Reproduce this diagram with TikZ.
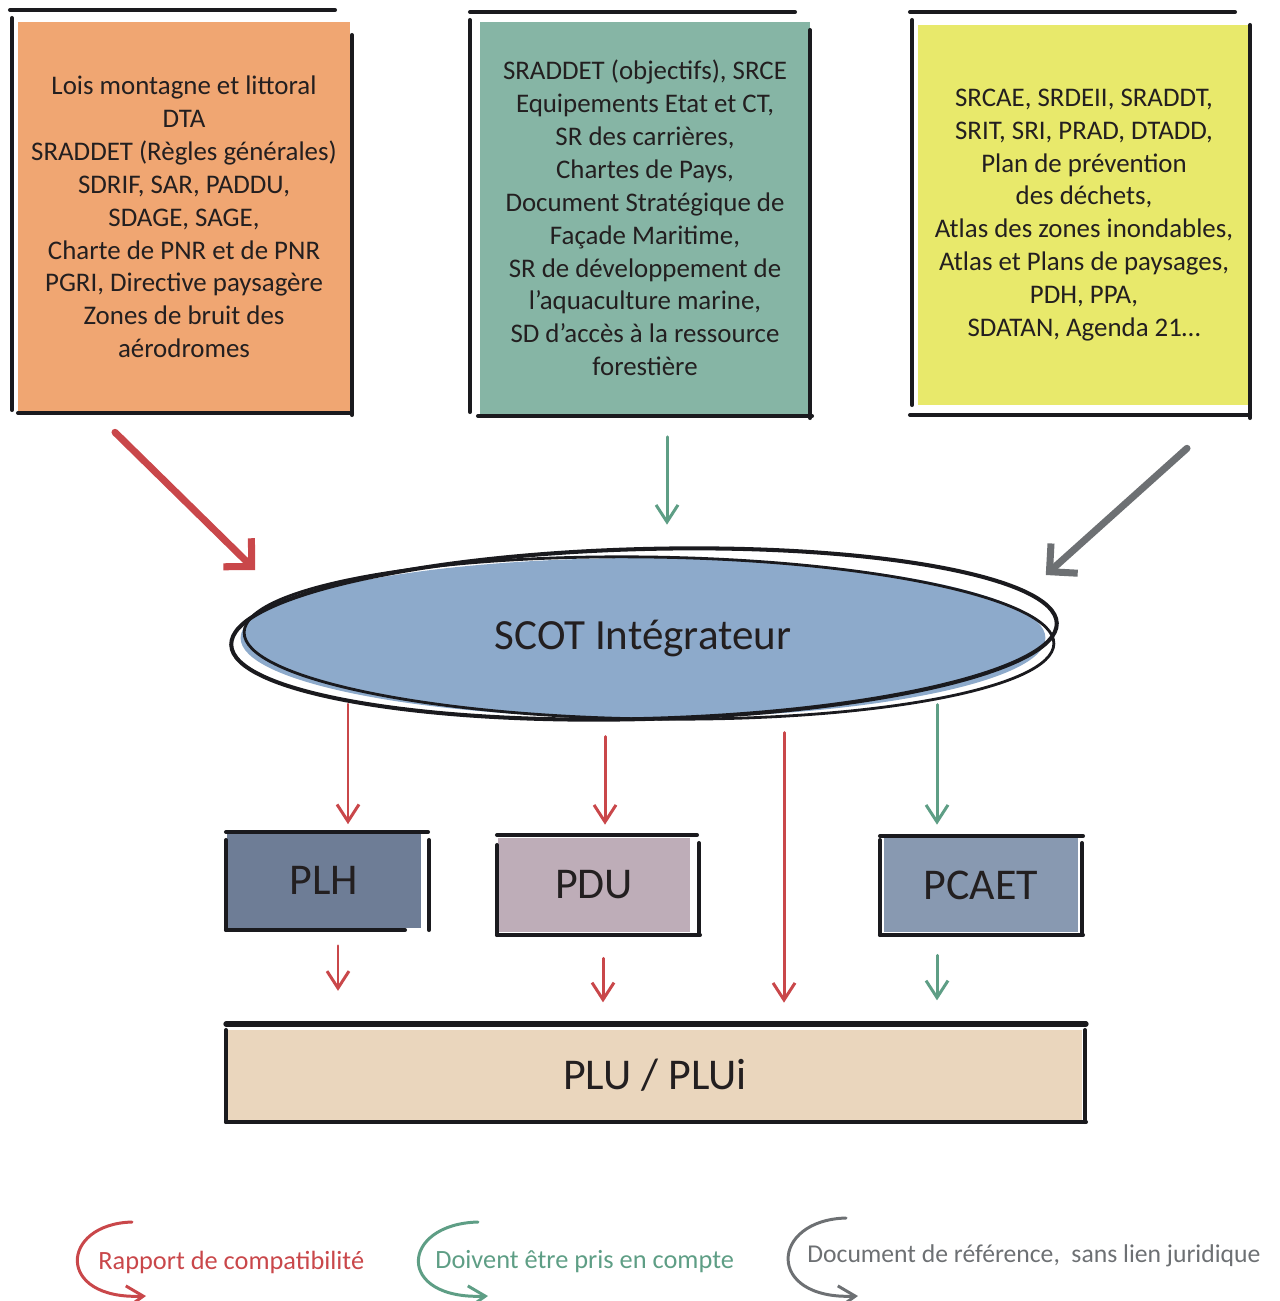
\documentclass[tikz,border=0pt]{standalone}
\usepackage{fontspec}
\setmainfont{Carlito}
\usetikzlibrary{shapes.geometric,arrows.meta,calc}
\definecolor{orangedoc}{HTML}{F0A672}
\definecolor{vertdoc}{HTML}{86B5A5}
\definecolor{jaunedoc}{HTML}{E8E96B}
\definecolor{scotfill}{HTML}{8DAACB}
\definecolor{plhfill}{HTML}{6E7D96}
\definecolor{pdufill}{HTML}{BEADB8}
\definecolor{pcaetfill}{HTML}{8899B1}
\definecolor{plufill}{HTML}{EAD6BD}
\definecolor{rouge}{HTML}{C9474A}
\definecolor{vert}{HTML}{5E9E85}
\definecolor{gris}{HTML}{6D7073}
\definecolor{encre}{HTML}{1A1A1E}
\definecolor{txt}{HTML}{231F20}
\begin{document}
\begin{tikzpicture}[x=0.02cm,y=-0.02cm,
    edge/.style={line width=2.3pt,draw=encre,line cap=round},
    doc/.style={inner sep=0pt,align=center,text=txt,font=\fontsize{15.3}{18.7}\selectfont},
    plan/.style={inner sep=0pt,text=txt,font=\fontsize{25}{28}\selectfont},
    compat/.style={draw=rouge,line width=1.7pt,line cap=round,-{Straight Barb[length=3.4mm,width=4.4mm]}},
    compte/.style={draw=vert,line width=1.7pt,line cap=round,-{Straight Barb[length=3.4mm,width=4.4mm]}},
    gros/.style={line width=4pt,line cap=round,-{Straight Barb[length=4mm,width=8mm]}},
    legende/.style={anchor=west,inner sep=0pt,font=\fontsize{15}{17}\selectfont}]
  \useasboundingbox (0,0) rectangle (1280,1301);

  % documents de rang superieur
  \node[doc,fill=orangedoc,minimum width=6.64cm,minimum height=7.8cm] (lois) at (184,217)
    {Lois montagne et littoral\\DTA\\SRADDET (Règles générales)\\SDRIF, SAR, PADDU,\\SDAGE, SAGE,\\Charte de PNR et de PNR\\PGRI, Directive paysagère\\Zones de bruit des\\aérodromes};
  \node[doc,fill=vertdoc,minimum width=6.6cm,minimum height=7.86cm] (srce) at (645,218)
    {SRADDET (objectifs), SRCE\\Equipements Etat et CT,\\SR des carrières,\\Chartes de Pays,\\Document Stratégique de\\Façade Maritime,\\SR de développement de\\l’aquaculture marine,\\SD d’accès à la ressource\\forestière};
  \node[doc,fill=jaunedoc,minimum width=6.64cm,minimum height=7.6cm] (srcae) at (1084,215)
    {SRCAE, SRDEII, SRADDT,\\SRIT, SRI, PRAD, DTADD,\\Plan de prévention\\des déchets,\\Atlas des zones inondables,\\Atlas et Plans de paysages,\\PDH, PPA,\\SDATAN, Agenda 21…};

  % traits a main levee
  \draw[edge] (10,10) -- (335,10);
  \draw[edge] (12,18) -- (12,410);
  \draw[edge] (352,35) -- (352,415);
  \draw[edge] (18,413) -- (352,413);
  \draw[edge] (470,12) -- (795,12);
  \draw[edge] (470,20) -- (470,412);
  \draw[edge] (810,30) -- (810,418);
  \draw[edge] (478,416) -- (812,416);
  \draw[edge] (910,12) -- (1235,12);
  \draw[edge] (912,20) -- (912,405);
  \draw[edge] (1250,25) -- (1250,418);
  \draw[edge] (910,415) -- (1250,415);

  % SCOT
  \node[ellipse,fill=scotfill,minimum width=16.1cm,minimum height=3.2cm,inner sep=0pt,
    text=txt,font=\fontsize{24.5}{28}\selectfont] (scot) at (643,638) {SCOT Intégrateur};
  \draw[edge] ([shift={(1,-4)}]scot.center) ellipse [x radius=8.26cm,y radius=1.7cm,rotate=1.5];
  \draw[edge,line width=1.6pt] ([shift={(6,0)}]scot.center) ellipse [x radius=8.1cm,y radius=1.62cm,rotate=-0.8];

  % plans
  \node[plan,fill=plhfill,minimum width=3.9cm,minimum height=1.9cm] (plh) at (324,880) {PLH};
  \node[plan,fill=pdufill,minimum width=3.86cm,minimum height=1.88cm] (pdu) at (594,885) {PDU};
  \node[plan,fill=pcaetfill,minimum width=3.88cm,minimum height=1.88cm] (pcaet) at (981,885) {PCAET};
  \node[plan,fill=plufill,minimum width=17.1cm,minimum height=1.8cm] (plu) at (655,1075) {PLU / PLUi};

  \draw[edge] (226,832) -- (428,832);
  \draw[edge] (226,840) -- (226,930);
  \draw[edge] (226,930) -- (405,930);
  \draw[edge] (429,840) -- (429,930);
  \draw[edge] (497,835) -- (697,835);
  \draw[edge] (497,845) -- (497,935);
  \draw[edge] (497,935) -- (700,935);
  \draw[edge] (699,843) -- (699,933);
  \draw[edge] (880,836) -- (1083,836);
  \draw[edge] (880,840) -- (880,935);
  \draw[edge] (880,935) -- (1083,935);
  \draw[edge] (1082,843) -- (1082,933);
  \draw[edge,line width=3pt] (226,1024) -- (1086,1024);
  \draw[edge] (226,1030) -- (226,1122);
  \draw[edge] (226,1122) -- (1086,1122);
  \draw[edge] (1085,1030) -- (1085,1122);

  % liens
  \draw[gros,draw=rouge] ($(lois.south)+(-69,20)$) -- ($(scot.west)+(15,-68)$);
  \draw[compte] ($(srce.south)+(22,22)$) -- ($(scot.north)+(24,-33)$);
  \draw[gros,draw=gris] ($(srcae.south)+(103,43)$) -- ($(scot.east)+(0,-63)$);
  \draw[compat] ($(plh.north)+(24,-128)$) -- ($(plh.north)+(24,-8)$);
  \draw[compat] ($(pdu.north)+(11,-101)$) -- ($(pdu.north)+(11,-13)$);
  \draw[compat] ($(plu.north)+(129,-297)$) -- ($(plu.north)+(129,-27)$);
  \draw[compte] ($(pcaet.north)+(-44,-133)$) -- ($(pcaet.north)+(-44,-13)$);
  \draw[compat] ($(plh.south)+(14,18)$) -- ($(plh.south)+(14,63)$);
  \draw[compat] ($(pdu.south)+(9,26)$) -- ($(pdu.south)+(9,70)$);
  \draw[compte] ($(pcaet.south)+(-44,23)$) -- ($(pcaet.south)+(-44,68)$);

  % legende
  \node[legende,text=rouge] (lcompat) at (98,1262) {Rapport de compatibilité};
  \node[legende,text=vert] (lcompte) at (435,1262) {Doivent être pris en compte};
  \node[legende,text=gris,font=\fontsize{14.6}{17}\selectfont] (lref) at (807,1256) {Document de référence,\ \ sans lien juridique};
  \draw[compat] (132,1222) .. controls (60,1224) and (55,1300) .. (146,1296);
  \draw[compte] (478,1222) .. controls (400,1224) and (395,1300) .. (488,1296);
  \draw[draw=gris,line width=1.7pt,line cap=round,-{Straight Barb[length=3.4mm,width=4.4mm]}]
    (846,1218) .. controls (770,1220) and (765,1300) .. (858,1296);
\end{tikzpicture}
\end{document}
